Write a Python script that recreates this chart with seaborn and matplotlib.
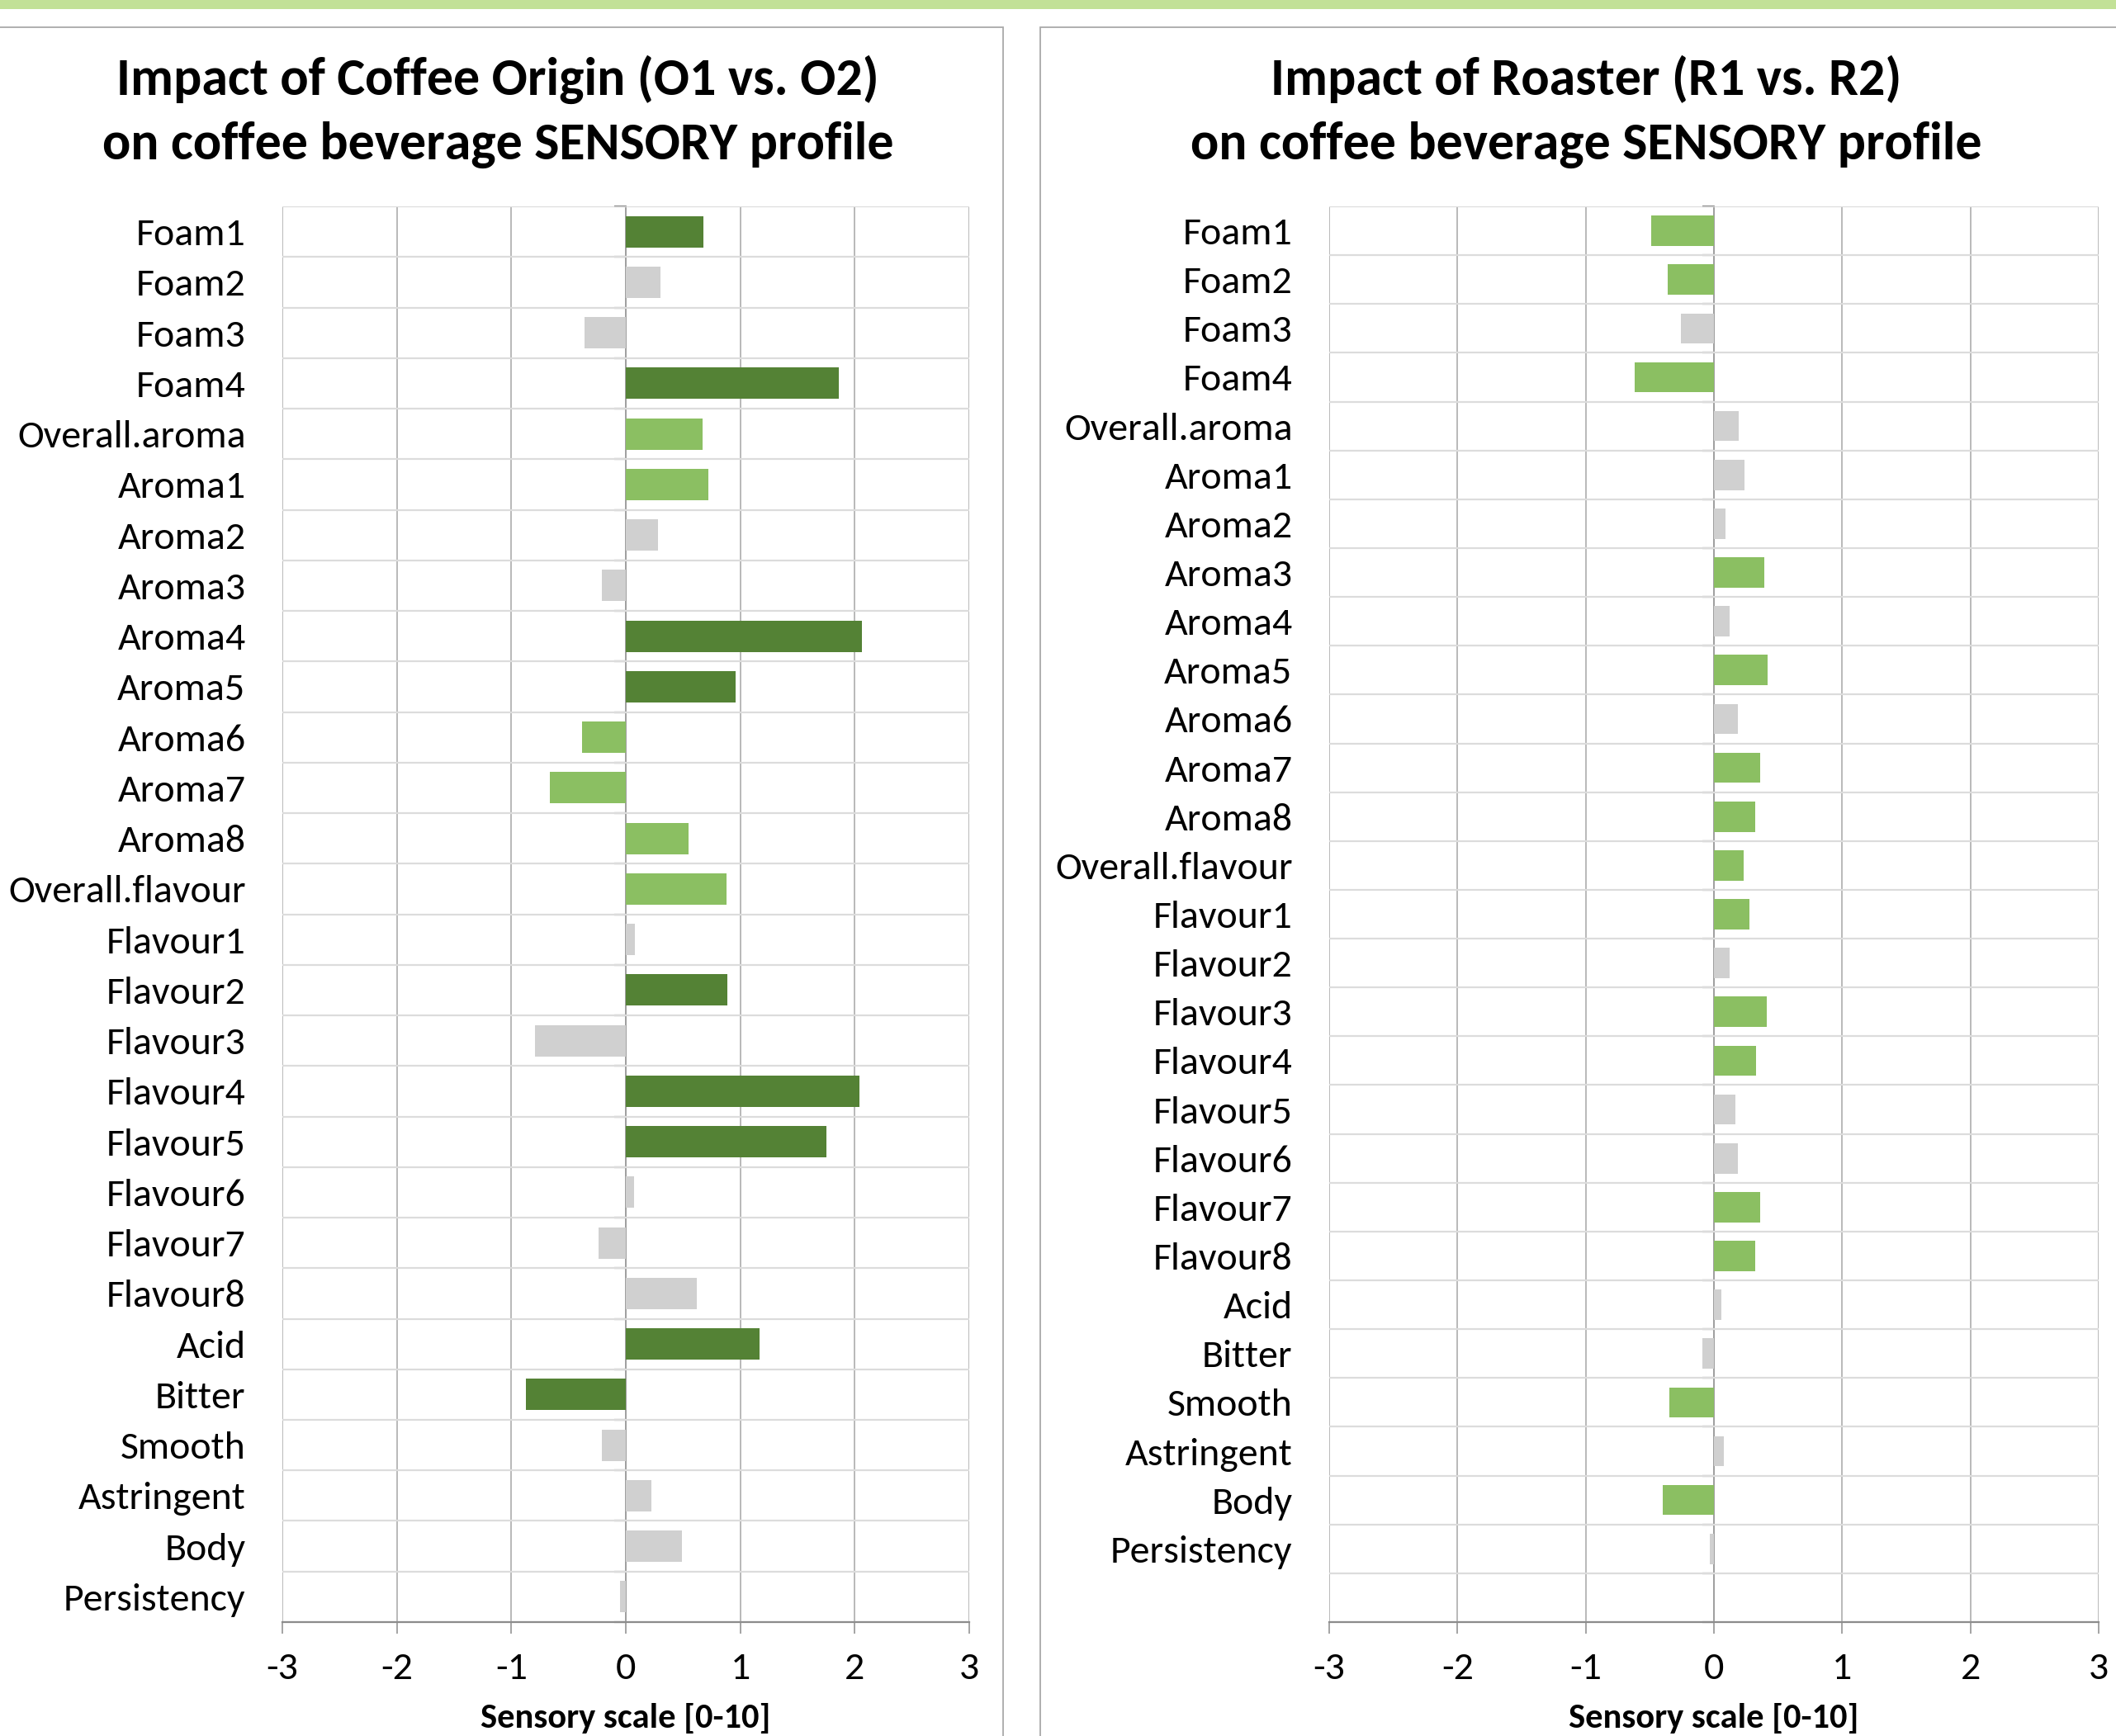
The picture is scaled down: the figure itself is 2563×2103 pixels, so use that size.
import numpy as np
import pandas as pd
import matplotlib
matplotlib.use("Agg")
import matplotlib.pyplot as plt
from matplotlib import font_manager
from matplotlib.patches import Rectangle
import seaborn as sns

# ---------------- data ----------------
attributes = ["Foam1", "Foam2", "Foam3", "Foam4", "Overall.aroma",
              "Aroma1", "Aroma2", "Aroma3", "Aroma4", "Aroma5", "Aroma6",
              "Aroma7", "Aroma8", "Overall.flavour", "Flavour1", "Flavour2",
              "Flavour3", "Flavour4", "Flavour5", "Flavour6", "Flavour7",
              "Flavour8", "Acid", "Bitter", "Smooth", "Astringent", "Body",
              "Persistency"]

origin_diff = [0.68, 0.30, -0.36, 1.86, 0.67, 0.72, 0.28, -0.21, 2.06, 0.96,
               -0.38, -0.66, 0.55, 0.88, 0.08, 0.89, -0.79, 2.04, 1.75, 0.07,
               -0.24, 0.62, 1.17, -0.87, -0.21, 0.22, 0.49, -0.05]
origin_sig = ["**", "ns", "ns", "**", "*", "*", "ns", "ns", "**", "**",
              "*", "*", "*", "*", "ns", "**", "ns", "**", "**", "ns",
              "ns", "ns", "**", "**", "ns", "ns", "ns", "ns"]

roaster_diff = [-0.49, -0.36, -0.26, -0.62, 0.19, 0.24, 0.09, 0.39, 0.12, 0.42,
                0.185, 0.36, 0.32, 0.23, 0.28, 0.12, 0.41, 0.33, 0.17, 0.185,
                0.36, 0.32, 0.055, -0.087, -0.35, 0.075, -0.40, -0.03]
roaster_sig = ["*", "*", "ns", "*", "ns", "ns", "ns", "*", "ns", "*",
               "ns", "*", "*", "*", "*", "ns", "*", "*", "ns", "ns",
               "*", "*", "ns", "ns", "*", "ns", "*", "ns"]

x_ticks = [-3, -2, -1, 0, 1, 2, 3]
titles = [["Impact of Coffee Origin (O1 vs. O2)", "on coffee beverage SENSORY profile"],
          ["Impact of Roaster (R1 vs. R2)", "on coffee beverage SENSORY profile"]]
x_label = "Sensory scale [0-10]"
sig_order = ["**", "*", "ns"]
palette = {"**": "#548235", "*": "#8BBF62", "ns": "#D0D0D0"}

# ---------------- style ----------------
sns.set_theme(style="white")
names = {f.name for f in font_manager.fontManager.ttflist}
base_font = "Carlito" if "Carlito" in names else "Lato"
plt.rcParams["font.family"] = [base_font, "DejaVu Sans"]

W, H, DPI = 2563, 2103, 100
fig = plt.figure(figsize=(W / DPI, H / DPI), dpi=DPI, facecolor="white")

def fx(px):
    return px / W

def fy(py):
    return 1 - py / H

# decorations: top strip and panel frames
fig.patches.append(Rectangle((0, fy(11)), 1, 11 / H, transform=fig.transFigure,
                             facecolor="#C2E197", edgecolor="none", zorder=0))
fig.patches.append(Rectangle((fx(-5), fy(H + 10)), fx(1215 + 5), (H + 10 - 33) / H,
                             transform=fig.transFigure, facecolor="none",
                             edgecolor="#A9A9A9", lw=1.3, zorder=0))
fig.patches.append(Rectangle((fx(1260), fy(H + 10)), fx(1400), (H + 10 - 33) / H,
                             transform=fig.transFigure, facecolor="none",
                             edgecolor="#A9A9A9", lw=1.3, zorder=0))

renderer = fig.canvas.get_renderer()

def fit_size(text, target_px, weight="normal", probe=40):
    t = fig.text(0, 0, text, fontsize=probe, weight=weight)
    w = t.get_window_extent(renderer).width
    t.remove()
    return probe * target_px / w

label_size = fit_size("Overall.aroma", 276)
title_size = fit_size(titles[0][0], 922, weight="bold")
xlab_size = fit_size(x_label, 351, weight="bold")

panels = [
    dict(diff=origin_diff, sig=origin_sig, left=342, right=1174, rows=28, cx=603),
    dict(diff=roaster_diff, sig=roaster_sig, left=1610, right=2542, rows=29, cx=1921),
]
top, bottom = 250, 1965

for p, ttl in zip(panels, titles):
    ax = fig.add_axes([fx(p["left"]), fy(bottom), fx(p["right"] - p["left"]),
                       (bottom - top) / H])
    df = pd.DataFrame({"attribute": attributes, "value": p["diff"], "sig": p["sig"]})
    sns.barplot(data=df, x="value", y="attribute", hue="sig", hue_order=sig_order,
                order=attributes, palette=palette, dodge=False, width=0.62,
                orient="h", saturation=1, legend=False, ax=ax,
                edgecolor="none", linewidth=0)
    n = p["rows"]
    ax.set_xlim(-3, 3)
    ax.set_ylim(n - 0.5, -0.5)
    ax.set_xticks(x_ticks)
    ax.set_xticklabels([str(v) for v in x_ticks])
    ax.set_yticks(np.arange(-0.5, n), minor=True)
    ax.set_axisbelow(True)
    ax.grid(False)
    ax.xaxis.grid(True, which="major", color="#A6A6A6", lw=1.1)
    ax.yaxis.grid(True, which="minor", color="#DCDCDC", lw=1.6)
    for s in ["top", "right", "left"]:
        ax.spines[s].set_visible(False)
    ax.spines["bottom"].set_color("#8C8C8C")
    ax.spines["bottom"].set_linewidth(1.6)
    ax.tick_params(axis="x", which="major", bottom=True, length=10, width=1.1,
                   color="#8C8C8C", pad=16, labelsize=label_size, labelcolor="black")
    ax.tick_params(axis="y", which="both", left=False, length=0, pad=32,
                   labelsize=label_size, labelcolor="black")
    ax.set_ylabel("")
    ax.set_xlabel(x_label, fontsize=xlab_size, weight="bold", color="black")
    ax.xaxis.set_label_coords(0.5, -(2082 - bottom) / (bottom - top))
    ax.xaxis.label.set_va("center")

    # zero (category) axis with small tick marks
    sec = ax.secondary_yaxis(0.5)
    sec.set_alignment("left")
    sec.set_yticks(np.arange(-0.5, n))
    sec.set_yticklabels([])
    sec.tick_params(axis="y", length=10, width=1.6, color="#8C8C8C", direction="out")
    for s in sec.spines.values():
        s.set_color("#8C8C8C")
        s.set_linewidth(1.4)

    for i, line in enumerate(ttl):
        fig.text(fx(p["cx"]), fy(96 + 79 * i), line, ha="center", va="center",
                 fontsize=title_size, weight="bold", color="black")

fig.savefig("out.png", dpi=DPI, facecolor="white")
